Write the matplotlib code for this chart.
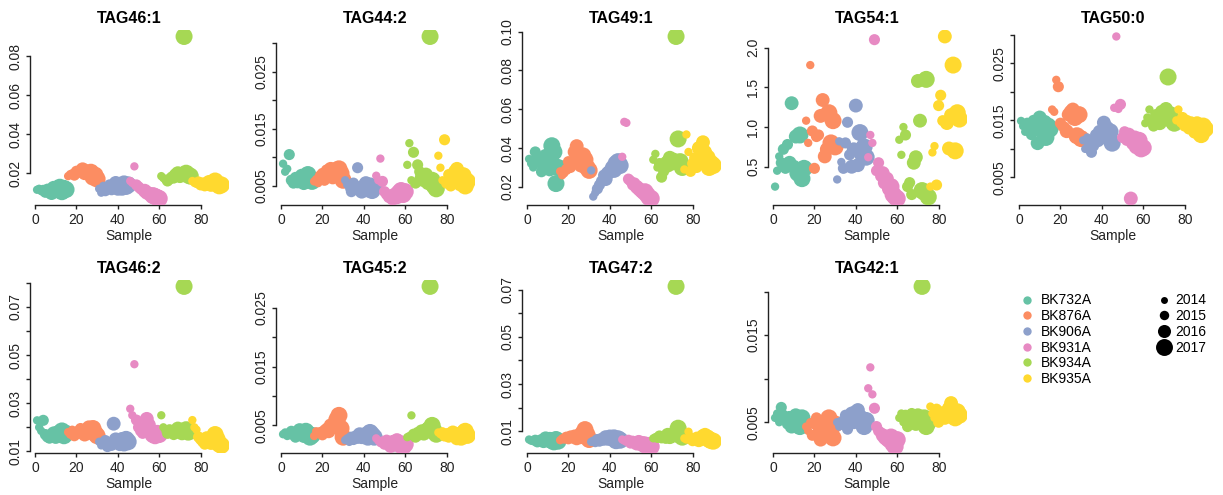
import matplotlib
matplotlib.use("Agg")
import matplotlib.pyplot as plt
from matplotlib.lines import Line2D

plt.rcParams['font.family'] = ['Liberation Sans', 'DejaVu Sans']

# ---- categories -------------------------------------------------------
groups = ["BK732A", "BK876A", "BK906A", "BK931A", "BK934A", "BK935A"]
group_colors = ["#66C2A5", "#FC8D62", "#8DA0CB", "#E78AC3", "#A6D854", "#FFD92F"]
years = [2014, 2015, 2016, 2017]
year_area = {2014: 36, 2015: 64, 2016: 100, 2017: 150}   # marker area (pt^2)

# 15 samples per group, ordered by collection year
group_years = [2014, 2014, 2014, 2015, 2015, 2015, 2015,
               2016, 2016, 2016, 2016, 2017, 2017, 2017, 2017]
sample_group = [g for g in groups for _ in group_years]
sample_year = group_years * len(groups)
sample_index = list(range(1, len(sample_group) + 1))

# ---- lipid abundances (one value per sample, grouped by 15) -----------
tag46_1 = [0.0115, 0.0120, 0.0108, 0.0112, 0.0102, 0.0118, 0.0110, 0.0098, 0.0125, 0.0113, 0.0120, 0.0128, 0.0105, 0.0122, 0.0116,
           0.0185, 0.0195, 0.0200, 0.0190, 0.0210, 0.0205, 0.0215, 0.0220, 0.0200, 0.0210, 0.0195, 0.0205, 0.0180, 0.0190, 0.0170,
           0.0120, 0.0100, 0.0135, 0.0110, 0.0125, 0.0140, 0.0115, 0.0130, 0.0150, 0.0120, 0.0138, 0.0128, 0.0145, 0.0132, 0.0140,
           0.0160, 0.0150, 0.0235, 0.0140, 0.0130, 0.0120, 0.0115, 0.0110, 0.0100, 0.0095, 0.0090, 0.0085, 0.0080, 0.0075, 0.0070,
           0.0185, 0.0175, 0.0165, 0.0160, 0.0170, 0.0180, 0.0175, 0.0190, 0.0200, 0.0185, 0.0195, 0.0902, 0.0200, 0.0190, 0.0185,
           0.0160, 0.0150, 0.0145, 0.0155, 0.0140, 0.0150, 0.0135, 0.0145, 0.0155, 0.0140, 0.0150, 0.0160, 0.0145, 0.0135, 0.0140]

tag44_2 = [0.0089, 0.0075, 0.0080, 0.0105, 0.0060, 0.0055, 0.0065, 0.0058, 0.0062, 0.0068, 0.0055, 0.0060, 0.0070, 0.0063, 0.0058,
           0.0058, 0.0062, 0.0055, 0.0068, 0.0072, 0.0060, 0.0078, 0.0075, 0.0080, 0.0065, 0.0070, 0.0078, 0.0080, 0.0072, 0.0060,
           0.0060, 0.0052, 0.0045, 0.0040, 0.0055, 0.0050, 0.0082, 0.0045, 0.0040, 0.0050, 0.0055, 0.0045, 0.0050, 0.0042, 0.0048,
           0.0068, 0.0060, 0.0098, 0.0058, 0.0040, 0.0035, 0.0030, 0.0032, 0.0028, 0.0035, 0.0030, 0.0038, 0.0042, 0.0035, 0.0040,
           0.0087, 0.0125, 0.0060, 0.0109, 0.0055, 0.0087, 0.0075, 0.0065, 0.0060, 0.0070, 0.0055, 0.0312, 0.0060, 0.0050, 0.0045,
           0.0103, 0.0082, 0.0060, 0.0131, 0.0055, 0.0070, 0.0050, 0.0065, 0.0075, 0.0080, 0.0060, 0.0055, 0.0068, 0.0050, 0.0058]

tag49_1 = [0.0344, 0.0320, 0.0300, 0.0380, 0.0350, 0.0330, 0.0278, 0.0310, 0.0360, 0.0340, 0.0290, 0.0412, 0.0380, 0.0217, 0.0300,
           0.0280, 0.0260, 0.0270, 0.0290, 0.0330, 0.0300, 0.0320, 0.0380, 0.0410, 0.0350, 0.0310, 0.0360, 0.0340, 0.0300, 0.0285,
           0.0285, 0.0150, 0.0170, 0.0190, 0.0210, 0.0230, 0.0260, 0.0240, 0.0270, 0.0280, 0.0300, 0.0290, 0.0320, 0.0330, 0.0310,
           0.0355, 0.0535, 0.0530, 0.0240, 0.0230, 0.0210, 0.0220, 0.0200, 0.0190, 0.0180, 0.0170, 0.0175, 0.0160, 0.0145, 0.0140,
           0.0340, 0.0370, 0.0300, 0.0320, 0.0250, 0.0280, 0.0330, 0.0310, 0.0350, 0.0320, 0.0340, 0.0975, 0.0447, 0.0330, 0.0300,
           0.0290, 0.0470, 0.0380, 0.0280, 0.0320, 0.0350, 0.0300, 0.0400, 0.0330, 0.0430, 0.0380, 0.0350, 0.0300, 0.0320, 0.0310]

tag54_1 = [0.25, 0.45, 0.63, 0.55, 0.72, 0.48, 0.78, 0.55, 1.30, 0.50, 0.88, 0.42, 0.90, 0.35, 0.48,
           1.08, 0.80, 1.78, 0.95, 0.48, 0.88, 0.90, 1.14, 1.34, 0.63, 0.72, 1.18, 0.80, 1.08, 0.75,
           0.34, 0.82, 0.56, 0.48, 0.80, 1.06, 0.65, 0.50, 0.72, 1.27, 0.52, 0.93, 0.67, 0.75, 0.62,
           0.62, 0.90, 0.80, 2.10, 0.45, 0.55, 0.38, 0.42, 0.30, 0.35, 0.22, 0.25, 0.15, 0.12, 0.10,
           0.84, 0.65, 1.00, 0.90, 0.25, 0.30, 0.15, 0.55, 0.62, 1.58, 1.08, 0.20, 0.18, 1.60, 0.12,
           0.25, 0.68, 0.76, 0.27, 1.27, 1.40, 1.08, 2.14, 1.05, 0.73, 1.15, 1.78, 0.70, 1.18, 1.10]

tag50_0 = [0.0149, 0.0140, 0.0130, 0.0145, 0.0135, 0.0125, 0.0150, 0.0140, 0.0110, 0.0155, 0.0130, 0.0145, 0.0120, 0.0140, 0.0135,
           0.0169, 0.0165, 0.0221, 0.0209, 0.0145, 0.0140, 0.0138, 0.0131, 0.0160, 0.0165, 0.0169, 0.0155, 0.0123, 0.0160, 0.0118,
           0.0115, 0.0100, 0.0120, 0.0110, 0.0094, 0.0105, 0.0125, 0.0115, 0.0130, 0.0120, 0.0146, 0.0135, 0.0125, 0.0130, 0.0110,
           0.0172, 0.0297, 0.0170, 0.0178, 0.0120, 0.0130, 0.0115, 0.0125, 0.0013, 0.0110, 0.0120, 0.0105, 0.0115, 0.0100, 0.0102,
           0.0145, 0.0155, 0.0169, 0.0150, 0.0140, 0.0160, 0.0150, 0.0145, 0.0165, 0.0155, 0.0170, 0.0226, 0.0160, 0.0150, 0.0145,
           0.0150, 0.0169, 0.0145, 0.0155, 0.0140, 0.0150, 0.0135, 0.0145, 0.0140, 0.0130, 0.0145, 0.0135, 0.0125, 0.0140, 0.0135]

tag46_2 = [0.0229, 0.0200, 0.0185, 0.0229, 0.0170, 0.0160, 0.0155, 0.0165, 0.0175, 0.0160, 0.0180, 0.0170, 0.0185, 0.0165, 0.0175,
           0.0180, 0.0170, 0.0190, 0.0165, 0.0175, 0.0185, 0.0195, 0.0180, 0.0170, 0.0190, 0.0200, 0.0185, 0.0195, 0.0175, 0.0165,
           0.0140, 0.0125, 0.0130, 0.0145, 0.0120, 0.0135, 0.0125, 0.0215, 0.0150, 0.0140, 0.0130, 0.0145, 0.0135, 0.0150, 0.0140,
           0.0277, 0.0250, 0.0462, 0.0230, 0.0200, 0.0185, 0.0175, 0.0190, 0.0235, 0.0210, 0.0180, 0.0170, 0.0165, 0.0175, 0.0170,
           0.0250, 0.0200, 0.0185, 0.0175, 0.0190, 0.0180, 0.0170, 0.0185, 0.0195, 0.0180, 0.0175, 0.0785, 0.0190, 0.0180, 0.0185,
           0.0230, 0.0200, 0.0190, 0.0160, 0.0150, 0.0140, 0.0130, 0.0155, 0.0145, 0.0135, 0.0160, 0.0170, 0.0150, 0.0130, 0.0125]

tag45_2 = [0.0035, 0.0038, 0.0032, 0.0036, 0.0040, 0.0034, 0.0030, 0.0038, 0.0042, 0.0036, 0.0032, 0.0040, 0.0035, 0.0030, 0.0033,
           0.0032, 0.0040, 0.0036, 0.0038, 0.0034, 0.0042, 0.0045, 0.0040, 0.0050, 0.0048, 0.0055, 0.0060, 0.0067, 0.0045, 0.0030,
           0.0025, 0.0028, 0.0022, 0.0030, 0.0026, 0.0032, 0.0028, 0.0035, 0.0030, 0.0033, 0.0036, 0.0030, 0.0038, 0.0034, 0.0030,
           0.0028, 0.0024, 0.0020, 0.0022, 0.0018, 0.0025, 0.0020, 0.0015, 0.0022, 0.0018, 0.0025, 0.0020, 0.0016, 0.0014, 0.0018,
           0.0030, 0.0032, 0.0067, 0.0035, 0.0030, 0.0038, 0.0034, 0.0040, 0.0036, 0.0042, 0.0045, 0.0286, 0.0050, 0.0040, 0.0035,
           0.0038, 0.0035, 0.0040, 0.0032, 0.0036, 0.0030, 0.0034, 0.0038, 0.0032, 0.0028, 0.0035, 0.0030, 0.0036, 0.0040, 0.0033]

tag47_2 = [0.0065, 0.0060, 0.0058, 0.0062, 0.0055, 0.0060, 0.0065, 0.0058, 0.0070, 0.0062, 0.0068, 0.0060, 0.0055, 0.0065, 0.0058,
           0.0062, 0.0070, 0.0065, 0.0075, 0.0068, 0.0080, 0.0072, 0.0078, 0.0070, 0.0082, 0.0075, 0.0090, 0.0107, 0.0085, 0.0065,
           0.0055, 0.0060, 0.0050, 0.0065, 0.0058, 0.0070, 0.0062, 0.0075, 0.0068, 0.0078, 0.0065, 0.0072, 0.0060, 0.0068, 0.0062,
           0.0065, 0.0060, 0.0055, 0.0062, 0.0050, 0.0058, 0.0052, 0.0048, 0.0055, 0.0045, 0.0050, 0.0042, 0.0038, 0.0040, 0.0035,
           0.0070, 0.0075, 0.0068, 0.0080, 0.0072, 0.0078, 0.0070, 0.0085, 0.0075, 0.0080, 0.0090, 0.0714, 0.0113, 0.0082, 0.0075,
           0.0070, 0.0065, 0.0098, 0.0072, 0.0060, 0.0068, 0.0075, 0.0062, 0.0070, 0.0080, 0.0085, 0.0072, 0.0065, 0.0060, 0.0058]

tag42_1 = [0.0055, 0.0060, 0.0050, 0.0067, 0.0058, 0.0052, 0.0048, 0.0055, 0.0045, 0.0050, 0.0058, 0.0052, 0.0045, 0.0055, 0.0048,
           0.0045, 0.0040, 0.0050, 0.0035, 0.0048, 0.0055, 0.0042, 0.0030, 0.0050, 0.0045, 0.0038, 0.0055, 0.0042, 0.0032, 0.0048,
           0.0050, 0.0045, 0.0052, 0.0048, 0.0058, 0.0042, 0.0055, 0.0060, 0.0050, 0.0062, 0.0064, 0.0055, 0.0050, 0.0045, 0.0052,
           0.0089, 0.0113, 0.0082, 0.0066, 0.0045, 0.0040, 0.0038, 0.0035, 0.0032, 0.0030, 0.0028, 0.0033, 0.0025, 0.0022, 0.0030,
           0.0055, 0.0060, 0.0050, 0.0058, 0.0045, 0.0052, 0.0060, 0.0055, 0.0048, 0.0058, 0.0050, 0.0206, 0.0055, 0.0045, 0.0050,
           0.0068, 0.0060, 0.0055, 0.0065, 0.0050, 0.0058, 0.0062, 0.0055, 0.0060, 0.0066, 0.0072, 0.0060, 0.0055, 0.0062, 0.0058]

panel_titles = ["TAG46:1", "TAG44:2", "TAG49:1", "TAG54:1", "TAG50:0",
                "TAG46:2", "TAG45:2", "TAG47:2", "TAG42:1"]
panel_values = [tag46_1, tag44_2, tag49_1, tag54_1, tag50_0,
                tag46_2, tag45_2, tag47_2, tag42_1]

# y-axis tick positions and their printed labels
panel_yticks = [
    [0.02, 0.04, 0.06, 0.08],
    [0.005, 0.010, 0.015, 0.020, 0.025, 0.030],
    [0.02, 0.04, 0.06, 0.08, 0.10],
    [0.5, 1.0, 1.5, 2.0],
    [0.005, 0.010, 0.015, 0.020, 0.025, 0.030],
    [0.01, 0.02, 0.03, 0.04, 0.05, 0.06, 0.07, 0.08],
    [0.005, 0.010, 0.015, 0.020, 0.025],
    [0.01, 0.02, 0.03, 0.04, 0.05, 0.06, 0.07],
    [0.005, 0.010, 0.015, 0.020],
]
panel_ylabels = [
    ["0.02", "0.04", "0.06", "0.08"],
    ["0.005", "", "0.015", "", "0.025", ""],
    ["0.02", "0.04", "0.06", "0.08", "0.10"],
    ["0.5", "1.0", "1.5", "2.0"],
    ["0.005", "", "0.015", "", "0.025", ""],
    ["0.01", "", "0.03", "", "0.05", "", "0.07", ""],
    ["0.005", "", "0.015", "", "0.025"],
    ["0.01", "", "0.03", "", "0.05", "", "0.07"],
    ["0.005", "", "0.015", ""],
]
xticks = [0, 20, 40, 60, 80]

# ---- figure layout (pixel geometry of a 2 x 5 grid) ---------------------
W, H = 1223, 495
fig = plt.figure(figsize=(W / 100, H / 100), dpi=100)

col_step, ax_w = 246, 199
row_top = [30, 280]
row_bottom = [205, 453]

color_of = dict(zip(groups, group_colors))
point_colors = [color_of[g] for g in sample_group]
point_sizes = [year_area[y] for y in sample_year]


def padded(lo, hi, frac=0.04):
    span = hi - lo
    return lo - frac * span, hi + frac * span


for k, (title, vals) in enumerate(zip(panel_titles, panel_values)):
    r, c = divmod(k, 5)
    left = 29.7 + c * col_step
    top, bottom = row_top[r], row_bottom[r]
    ax = fig.add_axes([left / W, 1 - bottom / H, ax_w / W, (bottom - top) / H])

    ax.scatter(sample_index, vals, s=point_sizes, c=point_colors,
               linewidths=0, zorder=3)

    ax.set_xlim(*padded(min(sample_index), max(sample_index)))
    ax.set_ylim(*padded(min(vals), max(vals)))

    ax.set_xticks(xticks)
    ax.set_xticklabels([str(t) for t in xticks], fontsize=10)
    ax.set_yticks(panel_yticks[k])
    ax.set_yticklabels(panel_ylabels[k], fontsize=10, rotation=90, va="center")

    for side in ("top", "right"):
        ax.spines[side].set_visible(False)
    ax.spines["left"].set_bounds(panel_yticks[k][0], panel_yticks[k][-1])
    ax.spines["bottom"].set_bounds(xticks[0], xticks[-1])
    for side in ("left", "bottom"):
        ax.spines[side].set_linewidth(1.0)
        ax.spines[side].set_color("#222222")

    ax.tick_params(axis="both", direction="out", length=3, width=1.0,
                   color="#222222", labelcolor="#222222")
    ax.tick_params(axis="y", pad=2.5)
    ax.tick_params(axis="x", pad=3)
    ax.set_xlabel("Sample", fontsize=10, labelpad=1, color="#222222")
    ax.set_title(title, fontsize=11.5, fontweight="bold", pad=5)
    ax.patch.set_alpha(0)

# ---- legends ------------------------------------------------------------
group_handles = [Line2D([], [], marker="o", linestyle="none", markersize=6,
                        markerfacecolor=col, markeredgewidth=0)
                 for col in group_colors]
year_handles = [Line2D([], [], marker="o", linestyle="none",
                       markersize=[5, 6.8, 9.4, 12.2][i],
                       markerfacecolor="black", markeredgewidth=0)
                for i, y in enumerate(years)]

leg1 = fig.legend(group_handles, groups, loc="upper left",
                  bbox_to_anchor=(1008 / W, 1 - 281 / H), frameon=False,
                  fontsize=10, handlelength=1.0, handletextpad=0.45,
                  labelspacing=0.12, borderpad=0.4)
leg2 = fig.legend(year_handles, [str(y) for y in years], loc="upper left",
                  bbox_to_anchor=(1143 / W, 1 - 281 / H), frameon=False,
                  fontsize=10, handlelength=1.2, handletextpad=0.2,
                  labelspacing=0.12, borderpad=0.4)

fig.savefig("out.png", dpi=100)
